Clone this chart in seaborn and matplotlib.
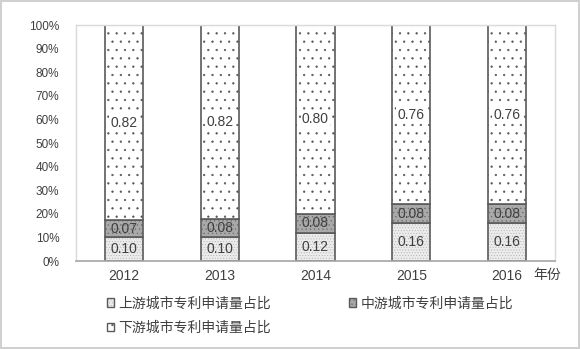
import matplotlib
matplotlib.use("Agg")
import matplotlib.pyplot as plt
import matplotlib.colors as mcolors
import seaborn as sns
import numpy as np
import pandas as pd
from matplotlib.patches import Patch

years = ["2012", "2013", "2014", "2015", "2016"]
upstream = [0.10, 0.10, 0.12, 0.16, 0.16]
midstream = [0.07, 0.08, 0.08, 0.08, 0.08]
downstream = [0.82, 0.82, 0.80, 0.76, 0.76]
series_names = ["上游城市专利申请量占比", "中游城市专利申请量占比", "下游城市专利申请量占比"]
yticks = [0, 10, 20, 30, 40, 50, 60, 70, 80, 90, 100]
xlabel_unit = "年份"

sns.set_style("white")
plt.rcParams["font.family"] = ["Liberation Sans", "Noto Sans CJK SC", "DejaVu Sans"]
plt.rcParams["hatch.linewidth"] = 0.4

fig = plt.figure(figsize=(5.8, 3.49), dpi=100)
fig.patch.set_edgecolor("#d0d0d0")
fig.patch.set_linewidth(1.5)
ax = fig.add_axes([76/580, 88/349, (555-76)/580, (261-25)/349])

up = np.array(upstream)
mid = np.array(midstream)
down = np.array(downstream)
tot = up + mid + down
up_n, mid_n, down_n = up / tot, mid / tot, down / tot

df = pd.DataFrame({"year": years, "up": up_n, "mid": mid_n, "down": down_n})

styles = [
    dict(color="#ececec", hatch="......", hc="#b4b4b4"),
    dict(color="#a9a9a9", hatch="....", hc="#6a6a6a"),
    dict(color="#ffffff", hatch="..", hc="#555555"),
]
edge = "#5a5a5a"
bottoms = [np.zeros(5), up_n, up_n + mid_n]
cols = ["up", "mid", "down"]
for col, st, bot in zip(cols, styles, bottoms):
    n_before = len(ax.patches)
    sns.barplot(data=df, x="year", y=col, ax=ax, color=st["color"], hatch=st["hatch"],
                edgecolor=edge, linewidth=1.2, width=0.4, bottom=bot, saturation=1, errorbar=None)
    for p in ax.patches[n_before:]:
        p._hatch_color = mcolors.to_rgba(st["hc"])

raw = [up, mid, down]
heights = [up_n, mid_n, down_n]
for i in range(5):
    for k in range(3):
        val = raw[k][i]
        center = bottoms[k][i] + heights[k][i] / 2
        kw = {}
        if k == 2:
            kw["bbox"] = dict(facecolor="white", edgecolor="none", pad=1.0)
        ax.text(i, center, f"{val:.2f}", ha="center", va="center", fontsize=10, color="#404040", **kw)

ax.set_xlim(-0.5, 4.5)
ax.set_ylim(0, 1)
ax.set_yticks([t / 100 for t in yticks])
ax.set_yticklabels([f"{t}%" for t in yticks], fontsize=8.5, color="#404040")
ax.tick_params(axis="y", length=0, pad=12)
ax.tick_params(axis="x", length=0, pad=6, labelsize=10, labelcolor="#404040")
ax.set_xlabel("")
ax.set_ylabel("")
for s in ["left", "top", "right"]:
    ax.spines[s].set_color("#d9d9d9")
    ax.spines[s].set_linewidth(1.0)
ax.spines["bottom"].set_color("#a6a6a6")
ax.spines["bottom"].set_linewidth(1.2)

ax.text(4.42, -0.06, xlabel_unit, transform=ax.transData, ha="center", va="center",
        fontsize=10, color="#404040", clip_on=False)

handles = []
for st in styles:
    h = Patch(facecolor=st["color"], hatch=st["hatch"], edgecolor=edge, linewidth=1.0)
    h._hatch_color = mcolors.to_rgba(st["hc"])
    handles.append(h)
order = [0, 2, 1]
leg = fig.legend([handles[i] for i in order], [series_names[i] for i in order], ncol=2,
                 loc="upper left", bbox_to_anchor=(94/580, 1 - 284/349), frameon=False,
                 fontsize=10, handlelength=0.55, handleheight=0.55, handletextpad=0.3,
                 columnspacing=5.6, labelspacing=0.75)
for t in leg.get_texts():
    t.set_color("#404040")

fig.savefig("out.png", dpi=100)
